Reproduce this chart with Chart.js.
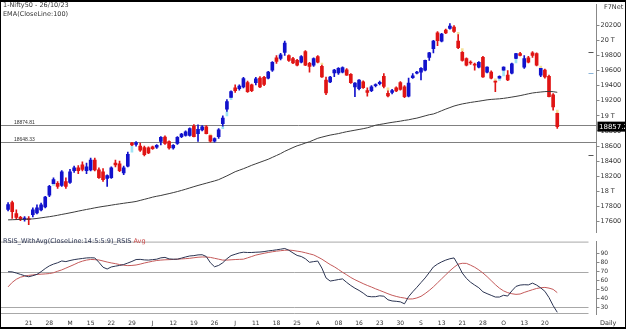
<!DOCTYPE html>
<html lang="en">
<head>
  <meta charset="UTF-8" />
  <title>Nifty50 daily with EMA 100 and RSI</title>
  <script src="https://cdn.jsdelivr.net/npm/chart.js"></script>
  <style>
    body {
      margin: 0;
      width: 626px;
      height: 329px;
      overflow: hidden;
      position: relative;
      background: #fff;
      font-family: 'DejaVu Sans', sans-serif;
    }
    canvas { position: absolute; left: 0; }
    #main { top: 0; }
    #rsi { top: 237px; }
    .txt {
      position: absolute;
      font-size: 6.5px;
      line-height: 7px;
      color: #333;
      white-space: nowrap;
    }
    #frame {
      position: absolute;
      left: 0; top: 0;
      width: 626px; height: 329px;
      box-sizing: border-box;
      border: 1px solid #000;
      border-top-width: 2px;
      border-bottom-width: 2px;
      pointer-events: none;
    }
  </style>
</head>
<body>

  <canvas id="main" width="626" height="237"></canvas>
  <canvas id="rsi" width="626" height="92"></canvas>

  <div class="txt" style="left:3px;top:2px">1-Nifty50 - 26/10/23</div>
  <div class="txt" style="left:3px;top:11px">EMA(CloseLine:100)</div>
  <div class="txt" style="left:604px;top:4px">F7Net</div>
  <div class="txt" style="left:3px;top:238px;color:#2b3452">RSIS_WithAvg(CloseLine:14:5:5:9)_RSIS <span style="color:#c84a4a">Avg</span></div>
  <div class="txt" style="left:600px;top:320px">Daily</div>
  <div id="frame"></div>

  <script>
    const FONT = "'DejaVu Sans', sans-serif";

    // x axis: one label every 5 sessions, starting at session 5
    const weekLabels = ['21', '28', 'M', '15', '22', '29', 'J', '12', '19', '26', 'J', '11', '18',
                        '25', 'A', '08', '16', '23', '30', 'S', '13', '21', '28', 'O', '13', '20'];
    const firstLabelAt = 5;
    const labelEvery = 5;
    const slots = 143; // sessions plus empty room before the price axis

    const priceTicks = [17600, 17800, 18000, 18200, 18400, 18600, 18800,
                        19000, 19200, 19400, 19600, 19800, 20000, 20200];
    const rsiTicks = [30, 40, 50, 60, 70, 80, 90];

    // daily OHLC
    const open = [17760,17850,17705,17655,17625,17640,17690,17715,17755,17795,
      17950,18100,18105,18080,18130,18118,18275,18310,18350,18275,
      18285,18415,18285,18260,18170,18180,18375,18365,18245,18335,
      18640,18620,18600,18580,18575,18590,18585,18660,18720,18660,
      18575,18635,18725,18740,18740,18865,18765,18815,18855,18740,
      18665,18725,18895,19090,19245,19370,19360,19385,19440,19410,
      19440,19500,19510,19500,19605,19770,19760,19840,19800,19760,
      19735,19710,19850,19695,19670,19785,19655,19475,19450,19570,
      19570,19580,19610,19550,19385,19360,19450,19335,19335,19400,
      19425,19525,19300,19310,19370,19440,19385,19260,19505,19565,
      19580,19605,19775,19890,20100,19990,20135,20160,20175,19990,
      19840,19760,19710,19685,19645,19775,19580,19580,19460,19500,
      19605,19540,19565,19760,19825,19645,19770,19835,19825,19540,
      19605,19525,19280,19035];
    const high = [17850,17870,17755,17670,17665,17665,17780,17820,17845,17935,
      18080,18180,18130,18275,18180,18290,18335,18340,18390,18375,
      18440,18440,18310,18300,18220,18325,18415,18400,18335,18520,
      18650,18660,18640,18600,18590,18600,18620,18725,18735,18670,
      18620,18725,18770,18800,18840,18885,18880,18870,18870,18745,
      18710,18830,19000,19215,19330,19410,19410,19510,19460,19420,
      19510,19520,19525,19590,19720,19800,19830,19990,19810,19775,
      19750,19800,19865,19710,19770,19800,19680,19515,19525,19615,
      19640,19650,19625,19560,19440,19480,19465,19370,19400,19425,
      19460,19560,19340,19350,19385,19455,19400,19500,19560,19590,
      19640,19740,19840,20000,20115,20095,20150,20222,20195,20085,
      19860,19770,19730,19700,19720,19790,19650,19595,19470,19530,
      19650,19600,19700,19830,19840,19800,19790,19850,19835,19640,
      19620,19540,19295,19045];
    const low = [17740,17640,17625,17610,17605,17560,17660,17700,17740,17780,
      17930,18092,18040,18065,18040,18105,18250,18235,18270,18235,
      18270,18270,18170,18130,18065,18170,18325,18260,18220,18325,
      18595,18600,18530,18470,18500,18555,18570,18615,18620,18560,
      18560,18620,18710,18730,18730,18720,18660,18800,18760,18650,
      18650,18700,18855,19050,19240,19310,19340,19370,19310,19320,
      19410,19375,19400,19490,19590,19695,19740,19800,19720,19690,
      19660,19700,19665,19580,19655,19700,19510,19280,19440,19520,
      19550,19570,19535,19430,19255,19345,19365,19260,19320,19385,
      19410,19370,19250,19290,19320,19340,19240,19250,19495,19555,
      19475,19595,19735,19835,19930,19980,20090,20150,20105,19890,
      19725,19660,19680,19605,19635,19510,19570,19490,19320,19490,
      19595,19465,19555,19750,19795,19630,19700,19775,19660,19520,
      19500,19250,19075,18835];
    const close = [17825,17730,17655,17630,17645,17625,17755,17780,17820,17925,
      18065,18155,18065,18260,18065,18260,18310,18275,18290,18325,
      18415,18285,18180,18155,18210,18310,18350,18275,18310,18490,
      18615,18645,18545,18485,18510,18565,18610,18715,18635,18575,
      18610,18715,18760,18790,18830,18725,18820,18855,18765,18665,
      18700,18815,18970,19190,19320,19335,19395,19495,19320,19335,
      19490,19385,19415,19580,19710,19720,19810,19965,19735,19700,
      19670,19785,19670,19655,19760,19710,19515,19305,19515,19605,
      19630,19640,19540,19440,19435,19475,19375,19310,19385,19410,
      19445,19390,19265,19335,19330,19350,19255,19435,19530,19580,
      19630,19735,19835,19990,19995,20085,20100,20190,20120,19905,
      19735,19670,19700,19670,19710,19515,19645,19500,19445,19525,
      19645,19475,19690,19825,19800,19760,19710,19800,19670,19630,
      19515,19255,19120,18857.2];

    const ema100 = [17622,17624,17626,17628,17630,17632,17635,17641,17649,17657,
      17664,17673,17683,17694,17704,17715,17726,17738,17749,17760,
      17770,17781,17791,17800,17808,17817,17826,17834,17842,17850,
      17857,17866,17880,17894,17908,17923,17935,17945,17958,17970,
      17983,17997,18012,18028,18045,18062,18078,18093,18108,18123,
      18138,18155,18180,18205,18232,18260,18280,18300,18322,18345,
      18365,18385,18405,18425,18450,18475,18500,18530,18555,18580,
      18603,18620,18640,18657,18680,18703,18718,18732,18745,18755,
      18765,18778,18790,18800,18810,18820,18830,18842,18858,18876,
      18886,18895,18905,18914,18922,18930,18940,18948,18960,18970,
      18985,19000,19015,19025,19045,19068,19090,19110,19130,19145,
      19158,19168,19178,19186,19194,19203,19212,19218,19222,19226,
      19232,19240,19249,19258,19268,19280,19292,19303,19310,19316,
      19321,19324,19320,19312];

    const rsi = [70,69.8,68.5,67,65.5,64.3,65.5,67,70,73.5,
      76.5,78.5,80,82,81.3,82.5,83.5,84.2,84.8,85.4,
      85.6,85.4,80.5,75,73,75.3,76.2,77,78,79.7,
      81.5,83.6,83.8,83.2,83,83.5,84,85.5,86,84.3,
      84,84,85.2,86.5,87.6,88,88.8,89,87,80,
      75.5,77,80,84.5,88,89.5,91,91.8,91.5,91.5,
      91.8,92,92.5,93.3,93.8,94.5,95.2,96,94,91,
      88.2,87,84.5,80.5,81.3,81.9,74,63,59.5,60.3,
      61.2,61.9,58,54.5,51.5,49,46,42.5,41.9,42,
      43,42.5,38.5,37.2,36.8,36.2,34,42,47.5,52.5,
      57.8,63,69,75.3,78.5,81,83,84.5,85.4,77.5,
      68.5,62.5,58.2,55,52,47.5,45.4,43.5,41.6,41.6,
      43.6,42.7,48.5,53.5,55,55.4,55.2,57.2,55,51.8,
      48,41,32,24.5];
    const rsiAvg = [53,58,61.5,63.8,65,65.9,66.4,66.9,67.2,67.5,
      67.9,68.8,70.5,72,74,76,78,80.2,81.8,83,
      83.7,83.5,83.1,82,80.8,79.8,79,78,77.3,76.8,
      77,77.5,78.5,79.7,80.7,81.7,82.5,83,83.3,83.5,
      83.7,84,84.3,84.6,85,85.6,86.2,86.5,86.4,86,
      85,84,83,83,83.3,83.6,83.8,84,85.5,87,
      88.6,89.6,90.6,91.5,92.3,93,93.5,94,94.2,93.8,
      93,92.3,91.2,90,88.8,86.5,84,81,78,75.5,
      72.5,69.3,66.5,63.5,61,58.8,56.6,54.6,52.8,50.8,
      49,47.2,45.3,43.6,42.3,41.2,40.5,39.4,39.5,40.6,
      42.4,45.5,49,53,57.5,62,66.5,71,75,78.4,
      79.4,79.3,77.3,75,72,68.5,64.5,60,55.5,51.5,
      48.5,46.5,45.3,44.6,45,46.8,48.3,49.8,51.2,52,
      52.4,51.6,50.2,46.5];

    const levels = [18874.81, 18648.33];
    const rsiLevels = [70, 30];
    // short marks beside the price axis
    const sideMarks = [19840, 19570, 18480];
    const sideMarkColours = ['#555', '#8ab4d8', '#555'];

    const UP = '#1212cc';
    const DOWN = '#e01414';

    const labels = Array.from({ length: slots }, (_, i) => {
      const k = (i - firstLabelAt) / labelEvery;
      return Number.isInteger(k) && k >= 0 && k < weekLabels.length ? weekLabels[k] : '';
    });
    const colours = close.map((c, i) => c >= open[i] ? UP : DOWN);

    // pale marks where a session opens clear of the previous range
    const gaps = close.map((c, i) => {
      if (i === 0) return null;
      if (low[i] > high[i - 1]) return [high[i - 1], low[i]];
      if (high[i] < low[i - 1]) return [high[i], low[i - 1]];
      return null;
    });
    const gapColours = gaps.map((g, i) => (g && low[i] > high[i - 1]) ? '#9ee4f4' : '#f4e29a');

    const levelLines = {
      id: 'levelLines',
      beforeDatasetsDraw(chart) {
        const { ctx, chartArea, scales: { y } } = chart;
        ctx.save();
        ctx.strokeStyle = '#808080';
        ctx.lineWidth = 1;
        ctx.fillStyle = '#333';
        ctx.font = "5px 'Liberation Sans'";
        levels.forEach(v => {
          const py = Math.round(y.getPixelForValue(v)) + 0.5;
          ctx.beginPath();
          ctx.moveTo(1, py);
          ctx.lineTo(chartArea.right, py);
          ctx.stroke();
          ctx.fillText(v.toFixed(2), 14, py - 2);
        });
        sideMarks.forEach((v, i) => {
          const py = Math.round(y.getPixelForValue(v)) + 0.5;
          ctx.strokeStyle = sideMarkColours[i];
          ctx.beginPath();
          ctx.moveTo(chartArea.right - 8, py);
          ctx.lineTo(chartArea.right - 3, py);
          ctx.stroke();
        });
        ctx.restore();
      }
    };

    const lastPrice = {
      id: 'lastPrice',
      afterDraw(chart) {
        const { ctx, scales: { y } } = chart;
        const v = close[close.length - 1];
        const py = y.getPixelForValue(v);
        ctx.save();
        ctx.fillStyle = '#000';
        ctx.fillRect(y.left + 1, py - 5, 40, 10);
        ctx.fillStyle = '#fff';
        ctx.font = '7px ' + FONT;
        ctx.textBaseline = 'middle';
        ctx.fillText(String(v), y.left + 2.5, py + 0.5);
        ctx.restore();
      }
    };

    const rsiGuides = {
      id: 'rsiGuides',
      beforeDatasetsDraw(chart) {
        const { ctx, chartArea: a, scales: { y } } = chart;
        const rows = [a.top + 0.5, ...rsiLevels.map(v => Math.round(y.getPixelForValue(v)) + 0.5), a.bottom - 0.5];
        ctx.save();
        ctx.strokeStyle = '#a8a8a8';
        ctx.lineWidth = 1;
        rows.forEach(py => {
          ctx.beginPath();
          ctx.moveTo(1, py);
          ctx.lineTo(a.right - 8, py);
          ctx.stroke();
        });
        ctx.restore();
      }
    };

    const axisTicks = {
      position: 'right',
      afterFit(s) { s.width = 29.5; },
      grid: { drawOnChartArea: false, tickLength: 3, color: '#888' },
      border: { color: '#888' }
    };

    new Chart(document.getElementById('main'), {
      data: {
        labels,
        datasets: [
          { type: 'line', data: ema100, borderColor: '#3c3c3c', borderWidth: 1, pointRadius: 0, order: 0 },
          { type: 'bar', data: open.map((o, i) => [o, close[i]]), backgroundColor: colours,
            barThickness: 3, minBarLength: 1, grouped: false, order: 1 },
          { type: 'bar', data: gaps, backgroundColor: gapColours, barThickness: 2, grouped: false, order: 2 },
          { type: 'bar', data: low.map((l, i) => [l, high[i]]), backgroundColor: colours,
            barThickness: 1, grouped: false, order: 3 }
        ]
      },
      options: {
        responsive: false,
        animation: false,
        events: [],
        layout: { padding: { left: 6, top: 3, bottom: 1, right: 0 } },
        plugins: { legend: { display: false }, tooltip: { enabled: false } },
        scales: {
          x: { display: false, offset: true },
          y: {
            ...axisTicks,
            min: 17460,
            max: 20470,
            afterBuildTicks(s) { s.ticks = priceTicks.map(value => ({ value })); },
            ticks: {
              padding: 1,
              color: '#333',
              font: { family: FONT, size: 6.5 },
              callback: v => v % 1000 === 0 ? (v / 1000) + ' T' : v
            }
          }
        }
      },
      plugins: [levelLines, lastPrice]
    });

    new Chart(document.getElementById('rsi'), {
      type: 'line',
      data: {
        labels,
        datasets: [
          { data: rsi, borderColor: '#2b3452', borderWidth: 1, pointRadius: 0 },
          { data: rsiAvg, borderColor: '#c45a5a', borderWidth: 1, pointRadius: 0 }
        ]
      },
      options: {
        responsive: false,
        animation: false,
        events: [],
        layout: { padding: { left: 6, top: 0, bottom: 0, right: 0 } },
        plugins: { legend: { display: false }, tooltip: { enabled: false } },
        scales: {
          x: {
            offset: true,
            afterFit(s) { s.height = 15; },
            grid: { display: false, drawTicks: false },
            border: { display: false },
            ticks: {
              autoSkip: false,
              maxRotation: 0,
              padding: 6,
              color: '#333',
              font: { family: FONT, size: 6 }
            }
          },
          y: {
            ...axisTicks,
            min: 22.6,
            max: 103.7,
            afterBuildTicks(s) { s.ticks = rsiTicks.map(value => ({ value })); },
            ticks: { padding: 1, color: '#333', font: { family: FONT, size: 6 } }
          }
        }
      },
      plugins: [rsiGuides]
    });
  </script>

</body>
</html>
